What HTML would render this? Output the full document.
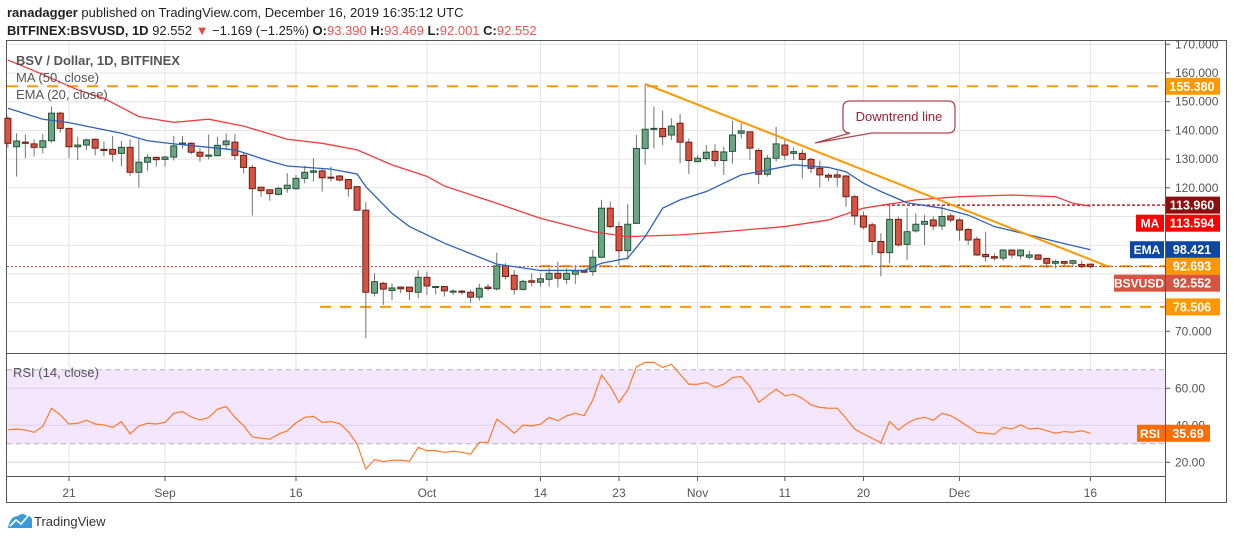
<!DOCTYPE html>
<html><head><meta charset="utf-8">
<style>
body{margin:0;background:#fff;width:1234px;height:540px;overflow:hidden;font-family:"Liberation Sans",sans-serif}
svg text{font-family:"Liberation Sans",sans-serif}
</style></head>
<body>
<svg id="chart" width="1234" height="540" xmlns="http://www.w3.org/2000/svg">
<text x="7" y="17" font-size="13" fill="#222"><tspan font-weight="bold">ranadagger</tspan> published on TradingView.com, December 16, 2019 16:35:12 UTC</text>
<text x="7" y="35" font-size="13" fill="#222"><tspan font-weight="bold">BITFINEX:BSVUSD, 1D</tspan> 92.552 <tspan fill="#e8473c">▼</tspan> −1.169 (−1.25%) <tspan font-weight="bold">O:</tspan><tspan fill="#ef5350">93.390</tspan> <tspan font-weight="bold">H:</tspan><tspan fill="#ef5350">93.469</tspan> <tspan font-weight="bold">L:</tspan><tspan fill="#ef5350">92.001</tspan> <tspan font-weight="bold">C:</tspan><tspan fill="#ef5350">92.552</tspan></text>
<rect x="6.5" y="40.5" width="1220" height="462" fill="none" stroke="#555" stroke-width="1"/>
<g id="grid"></g>
<rect x="7" y="370" width="1158" height="74" fill="#f3e6fd"/>
<g id="rsigrid"></g>
<g id="levels"></g>
<g id="candles"></g>
<g id="lines"></g>
<g id="axis"></g>
<line x1="7" y1="353.5" x2="1227" y2="353.5" stroke="#555"/>
<line x1="7" y1="476.5" x2="1165" y2="476.5" stroke="#555"/>
<line x1="1165.5" y1="41" x2="1165.5" y2="503" stroke="#555"/>
<text x="16" y="65" font-size="13" fill="#555" font-weight="bold">BSV / Dollar, 1D, BITFINEX</text>
<text x="16" y="82" font-size="13" fill="#555">MA (50, close)</text>
<text x="16" y="99" font-size="13" fill="#555">EMA (20, close)</text>
<text x="13" y="377" font-size="13" fill="#555">RSI (14, close)</text>
<g>
<path d="M850,101 H948 Q955,101 955,108 V126 Q955,133 948,133 H872 L815,143 L850,133 Q843,133 843,126 V108 Q843,101 850,101 Z" fill="#fff" stroke="#b0474f" stroke-width="1.3"/>
<text x="899" y="121" text-anchor="middle" font-size="13" fill="#a02030">Downtrend line</text>
</g>
<g>
<path d="M8,528 Q10,516 18,516 Q22,512 27,516 Q33,516 32,523 L32,528 Z" fill="#3a9bdc"/>
<polyline points="10,526 16,520 21,524 28,516" fill="none" stroke="#fff" stroke-width="1.6"/>
<text x="34" y="526" font-size="13" fill="#333">TradingView</text>
</g>
</svg>
<script>
const opens=[144.2,134.3,135.9,135.3,134.1,136.4,146,140.7,134.3,134.9,136.9,133.4,133.4,132,134.1,125.4,128.9,130.6,129.9,130.7,135.2,135.5,132.4,131,131.2,135,135.9,131.3,127.1,120.2,119.3,117.7,119.7,119.7,123.3,125.4,125.9,123.7,124.1,122.9,120.4,112.2,83.3,86.7,84.2,85.4,85.4,83.6,88.8,85.5,85.6,84,84,83.6,81.9,85.4,84.8,92.9,89.5,84.6,87.6,87.1,88.1,90.2,88.1,89.9,91.1,90.8,95.8,112.9,106.5,98.1,107.6,133.7,140.7,140.7,138.4,142.5,135.9,129.1,130.2,132.7,129.5,132.7,139,139.5,133,124.7,130.3,134.9,132,132,129.9,126.8,124.4,124.5,124.1,116.9,110.2,107.1,101.3,97.4,109,100.3,105,107.3,108.8,106.7,110.2,108.8,105.5,102.1,96.8,96,95.5,98.3,96.3,95.8,96.6,95.4,93.7,94.3,93.7,93.3,93.39];
const highs=[145,139,138.6,136.9,138.8,148.3,146.5,140.7,137.8,137.2,137.2,136.1,138.1,136.4,136.9,136.9,131.8,130.9,131.2,138.1,138.1,135.9,133.8,138.6,137.8,139,138.8,132.5,128,120.2,119.3,120.4,125.1,124.5,127.7,130.3,126.6,127.4,124.5,122.9,120.6,115,90.2,87.3,86.7,85.6,85.4,91.2,90.8,85.8,85.6,84.7,84.4,84.4,86.5,86.5,97.4,93.7,91.4,87.9,90.2,90.2,92,94.3,92,93.1,91.4,98.4,115.8,115.2,108.2,114.4,138.4,156.2,148.3,146.9,144.2,145.7,137.2,131.4,134.9,135.2,134.3,143.4,142.5,139.6,133.8,131.4,141.3,136.7,134.1,133.4,130.5,129.5,125.1,126,124.5,117.5,111.7,107.9,104.2,114.6,110,112.9,111.1,110.5,110,114,111.1,109.4,105.9,103,104.7,97.2,98.6,98.6,98.6,98.1,97,95.7,94.9,94.6,94.9,94.6,93.469];
const lows=[134,123.9,130.3,130.9,132,135.7,139.2,130.3,129.7,133.2,131.3,131,129.1,127.4,124.2,120.1,125.9,127.4,127.4,129.5,133.7,131.7,129.1,129.9,130.9,133.2,129.7,125,110.3,116.9,115.5,117.3,118.3,119.3,121.6,122.2,118.7,122.2,122.2,116.9,112.2,67.6,82.1,79.2,80.9,83.3,80.9,81.5,82.7,82.9,82.1,82.7,82.7,80,80.7,84.2,84.2,88.1,82.7,84.2,85.6,85.6,85.6,85.3,86.5,86.5,90.2,89.3,95.4,105.9,93.1,94.9,107.6,128,133.7,134.9,136.7,128.5,124.8,129.1,129.5,127.4,124.5,128.5,137.2,129.7,121.3,123.9,129.1,129.7,129.7,123.3,125.1,120.2,122.2,120.4,113.4,107.1,105.5,96.6,89.1,93.7,99.5,94.9,104.4,100.1,105.3,105.3,107.9,101.6,100.1,96.3,94.3,94.6,94.6,95.4,95.1,95.1,94.9,92,92,92.5,92.5,92,92.001];
const closes=[135.5,136.3,135.5,134.1,136.4,146,140.7,134.3,134.9,136.7,133.8,133,131.7,134.1,125.4,128.9,130.6,129.8,130.7,134.6,135.6,132.4,131,131.4,134.8,136.3,131.3,127.1,119.7,119,118,119.8,120.9,123.3,125.4,125.9,123.5,123.6,122.7,119.7,112.2,83.6,87.3,84.7,85.1,84.8,83.9,88.8,85.8,85.6,84.1,84,83.6,81.9,85,84.9,92.8,89.1,84.6,87.4,87.1,88.3,90.2,88.5,90.2,91.1,90.6,95.8,112.9,106.5,98.1,107.3,133.7,140.4,140.7,137.8,141.5,135.9,129.5,130.3,132.4,129.5,132.5,138.4,139.8,133.8,124.7,130.3,135.3,131.4,132.6,129.9,126.8,124.5,123.7,123.7,116.9,110.2,106.3,101.3,97.4,109,100.1,104.7,107.3,108.3,106.7,110,108.8,105.3,101.8,96.6,96,95.5,98.3,96.6,98.3,96.6,95.1,93.7,94.3,93.7,94.6,92.6,92.552];
const rsiValues=[37.5,38,37.5,36.2,39.5,49.2,45.6,40.7,41.1,42.7,40.7,40.2,38.9,42,35.3,39.7,41.1,40.7,41.6,46.5,47.4,44.5,42.9,44.2,48.7,50.1,44.3,39.8,33.7,33,32.5,35.2,37,41.3,44.3,44.9,41.6,42,40.9,36.6,29.8,16.3,21.5,20.4,21.1,21.1,20.6,28.1,26.3,26.3,25.4,26,25.4,24.4,30.8,30.8,43.3,39.8,35.7,40,39.7,40.6,44.3,42.4,45.1,46.5,45.2,53.7,67.2,60.9,52.4,59.1,71.7,74,74,71.2,73,67.6,62.2,62.2,63.2,60.5,62.2,65.8,66.3,60.9,52.4,56,59.5,56,56.8,54.6,51,49.7,49.2,49.2,43.8,37.9,35.3,33,30.5,42,37.5,41.1,43.4,44.3,42.7,46.5,45.2,42.4,39.3,36.2,35.7,35.2,38.9,38,40.2,38,38.4,37.1,35.7,36.6,36.2,37.1,35.69];
const maCandles=[1,5,9,12,16,20,24,28,33,37,41,45,49,51,57,62,68,72,78,83,90,95,99,105,110,116,121,123,125];
const maValues=[164.5,159.5,154.1,151.2,144.8,142.8,143.9,141.5,136.9,135.5,133.2,128,124,120.6,114.6,109.4,104.7,103,103.6,104.7,106.5,108.8,112.9,115.8,116.9,117.5,116.9,114.6,113.594];
const emaCandles=[1,5,8,14,17,20,24,27,31,33,38,41,42,45,47,51,57,62,67,69,72,74,76,78,81,85,87,91,95,97,99,101,104,108,111,114,118,121,125];
const emaValues=[147.7,143.9,142.7,139,136.4,135.3,134.1,133.2,129.3,127.6,126.5,124.8,120.4,111.1,106.5,100.7,93.4,91.2,91.2,93.7,95.5,103,112.9,115.8,118.7,124.5,125.6,128,127.1,125.6,121.6,118.7,114.8,112.9,110.5,106.5,103.6,101.3,98.421];
const priceTicks=[170,160,150,140,130,120,110,100,90,80,70];
const shownPriceTicks=[170,160,150,140,130,120,70];
const rsiTicks=[60,40,20];
const dateLabels=["21","Sep","16","Oct","14","23","Nov","11","20","Dec","16"];
const dateDays=[0,11,26,41,54,63,72,82,91,102,117];
const levelPrices=[155.38,92.693,78.506];
const resistancePrice=113.96;

const NS="http://www.w3.org/2000/svg";
const X0=69, DX=8.73, FIRST_DAY=-7;
function xDay(d){return X0+d*DX;}
function xC(i){return xDay(FIRST_DAY+i);}
function yP(p){return 73+(160-p)*2.87;}
function yR(r){return 388.3+(60-r)*1.85;}
function mk(tag,attrs,parent){const e=document.createElementNS(NS,tag);for(const k in attrs)e.setAttribute(k,attrs[k]);parent.appendChild(e);return e;}
const G=id=>document.getElementById(id);

dateDays.forEach((d,k)=>{
  const x=xDay(d);
  const l=mk('line',{x1:x,y1:41,x2:x,y2:476,stroke:'#e3e3e3'},G('grid'));
  
  
  const t=mk('line',{x1:x,y1:476,x2:x,y2:481,stroke:'#555'},G('axis'));
  
  
  const tx=mk('text',{x:x,y:497,'font-size':12,fill:'#555','text-anchor':'middle'},G('axis'));
  tx.textContent=dateLabels[k];
  
  
});
priceTicks.forEach(p=>{
  const y=yP(p);
  const l=mk('line',{x1:7,y1:y,x2:1165,y2:y,stroke:'#e3e3e3'},G('grid'));
  
  
  const t=mk('line',{x1:1165,y1:y,x2:1170,y2:y,stroke:'#555'},G('axis'));
  
  
  if(shownPriceTicks.indexOf(p)<0)return;
  const tx=mk('text',{x:1175,y:y+4,'font-size':12,fill:'#555'},G('axis'));
  tx.textContent=p.toFixed(3);
  
  
});
rsiTicks.forEach(r=>{
  const y=yR(r);
  const l=mk('line',{x1:7,y1:y,x2:1165,y2:y,stroke:'#ddd2e6'},G('rsigrid'));
  
  
  const t=mk('line',{x1:1165,y1:y,x2:1170,y2:y,stroke:'#555'},G('axis'));
  
  
  const tx=mk('text',{x:1175,y:y+4,'font-size':12,fill:'#555'},G('axis'));
  tx.textContent=r.toFixed(2);
  
  
});
[70,30].forEach(r=>{
  const l=mk('line',{x1:7,y1:yR(r),x2:1165,y2:yR(r),stroke:'#b9a9c4','stroke-dasharray':'5,4'},G('rsigrid'));
  
  
});

const levelStart=[7,540,320];
levelPrices.forEach((p,k)=>{
  const l=mk('line',{x1:levelStart[k],y1:yP(p),x2:1165,y2:yP(p),stroke:'#ff9800','stroke-width':2,'stroke-dasharray':'11,9'},G('levels'));
  
  
});
const rl=mk('line',{x1:882,y1:yP(resistancePrice),x2:1165,y2:yP(resistancePrice),stroke:'#b22a2a','stroke-width':1.5,'stroke-dasharray':'3,2'},G('levels'));


const last=closes[closes.length-1];
const cl=mk('line',{x1:7,y1:yP(last),x2:1165,y2:yP(last),stroke:'#c0392b','stroke-width':1,'stroke-dasharray':'2,2'},G('levels'));



const cg=G('candles');
for(let i=0;i<closes.length;i++){
  const x=xC(i), up=closes[i]>=opens[i];
  const w=mk('line',{x1:x,y1:yP(highs[i]),x2:x,y2:yP(lows[i]),stroke:'#737375'},cg);
  
  
  const top=yP(Math.max(opens[i],closes[i])), bot=yP(Math.min(opens[i],closes[i]));
  const b=mk('rect',{x:x-3,y:top,width:6,height:Math.max(1,bot-top),fill:up?'#6ba583':'#d75442',stroke:up?'#225437':'#6f1d12','stroke-width':1},cg);
  
  
}

function poly(days,vals,color,name){
  const pts=days.map((d,k)=>xC(d-1)+','+yP(vals[k])).join(' ');
  const p=mk('polyline',{points:pts,fill:'none',stroke:color,'stroke-width':1.3},G('lines'));
  
  
}
poly(maCandles,maValues,'#f23b3b','ma-50-line');
poly(emaCandles,emaValues,'#2e62b8','ema-20-line');
const rp=mk('polyline',{points:rsiValues.map((r,i)=>xC(i)+','+yR(r)).join(' '),fill:'none',stroke:'#ff7a2a','stroke-width':1.2},G('lines'));


const dt=mk('line',{x1:xC(73),y1:yP(highs[73]),x2:1108,y2:yP(92.6),stroke:'#ff9800','stroke-width':2},G('lines'));



function tag(val,color,name,txt,txtW,dy){
  const y=yP(val)+(dy||0);
  const r=mk('rect',{x:1165,y:y-8.5,width:55,height:17,fill:color},G('axis'));
  
  
  const t=mk('text',{x:1192,y:y+4.5,'font-size':12.5,'font-weight':'bold',fill:'#fff','text-anchor':'middle'},G('axis'));
  t.textContent=val.toFixed(3);
  
  
  if(txt){
    const r2=mk('rect',{x:1164-txtW,y:y-8.5,width:txtW,height:17,fill:color},G('axis'));
    
    
    const t2=mk('text',{x:1164-txtW/2,y:y+4.5,'font-size':12,'font-weight':'bold',fill:'#fff','text-anchor':'middle'},G('axis'));
    t2.textContent=txt;
    
    
  }
}
tag(155.38,'#ff9800','level-155-label');
tag(resistancePrice,'#8b0e0e','resistance-label');
tag(113.594,'#ff0000','ma-label','MA',28,17);
tag(98.421,'#0d47a1','ema-label','EMA',34);
tag(92.693,'#ff9800','level-92-label');
(function(){
  const y=yP(92.693)+17;
  const r=mk('rect',{x:1114,y:y-8.5,width:106,height:17,fill:'#d75442'},G('axis'));
  
  
  const t=mk('text',{x:1139,y:y+4.5,'font-size':12,'font-weight':'bold',fill:'#fff','text-anchor':'middle'},G('axis'));
  t.textContent='BSVUSD';
  
  
  const t2=mk('text',{x:1192,y:y+4.5,'font-size':12.5,'font-weight':'bold',fill:'#fff','text-anchor':'middle'},G('axis'));
  t2.textContent=last.toFixed(3);
  
  
})();
tag(78.506,'#ff9800','level-78-label');
(function(){
  const v=rsiValues[rsiValues.length-1], y=yR(v);
  const r=mk('rect',{x:1137,y:y-8.5,width:73,height:17,fill:'#ff6d00'},G('axis'));
  
  
  const t=mk('text',{x:1150,y:y+4.5,'font-size':12,'font-weight':'bold',fill:'#fff','text-anchor':'middle'},G('axis'));
  t.textContent='RSI';
  
  
  const t2=mk('text',{x:1188,y:y+4.5,'font-size':12.5,'font-weight':'bold',fill:'#fff','text-anchor':'middle'},G('axis'));
  t2.textContent=v.toFixed(2);
  
  
})();
</script>
</body></html>
